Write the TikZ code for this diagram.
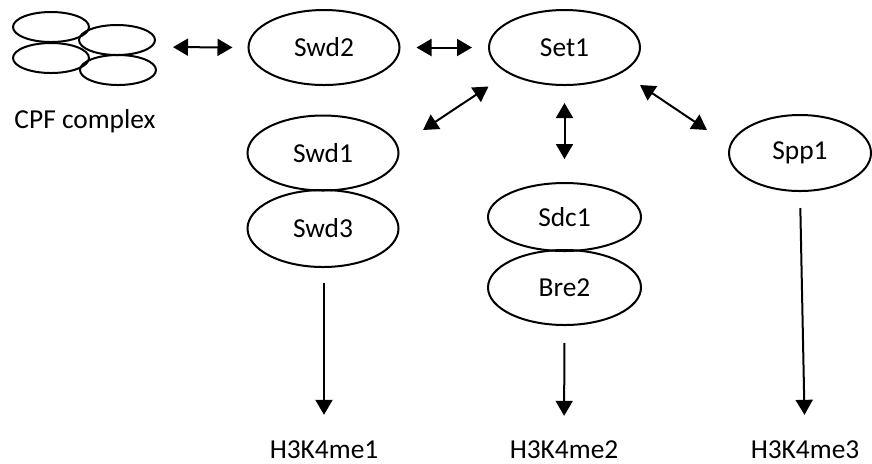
\documentclass[tikz,border=0pt]{standalone}
\usepackage{fontspec}
\setmainfont{Carlito}
\usetikzlibrary{shapes.geometric,arrows.meta}

\begin{document}
\begin{tikzpicture}[x=0.5pt,y=-0.5pt,
  every node/.style={font=\fontsize{13.7}{16}\selectfont},
  protein/.style={ellipse,draw,line width=1pt,inner sep=0pt,minimum width=75.5pt,minimum height=37.5pt},
  subunit/.style={ellipse,draw,line width=1pt,inner sep=0pt,minimum width=38pt,minimum height=15pt},
  caption/.style={inner sep=0pt,anchor=base},
  link/.style={line width=1pt,{Triangle[length=7.5pt,width=8.5pt]}-{Triangle[length=7.5pt,width=8.5pt]}},
  flow/.style={line width=1pt,-{Triangle[length=7.5pt,width=8.5pt]}}]
\useasboundingbox (0,0) rectangle (872,463);

% CPF complex
\node[subunit] (cpfB) at (117,40) {};
\node[subunit] (cpfD) at (118,70) {};
\node[subunit] (cpfA) at (51,27) {};
\node[subunit] (cpfC) at (51,58) {};
\node[caption] (cpf) at (85,128) {CPF complex};
\coordinate (cpfout) at (156,47);

% proteins
\node[protein] (swd2) at (324,47.5) {Swd2};
\node[protein] (set1) at (564.5,47.5) {Set1};
\node[protein] (swd1) at (323,153) {Swd1};
\node[protein,minimum height=38.5pt] (swd3) at (323,228.5) {Swd3};
\node[protein,minimum width=76.5pt,minimum height=34pt] (sdc1) at (564.5,217) {Sdc1};
\node[protein,minimum width=76.5pt] (bre2) at (564.5,287.5) {Bre2};
\node[protein,minimum width=71pt,minimum height=38pt] (spp1) at (800,153) {Spp1};

% marks
\node[caption] (me1) at (324,458) {H3K4me1};
\node[caption] (me2) at (564,458) {H3K4me2};
\node[caption] (me3) at (805,458) {H3K4me3};

% interactions
\draw[link,shorten <=8.5pt,shorten >=7.5pt] (cpfout) -- (swd2.west);
\draw[link,shorten <=8pt,shorten >=8pt] (swd2.east) -- (set1.west);
\draw[link] ([shift={(-76,39)}]set1.center) -- ([shift={(100,-23)}]swd1.center);
\draw[link,shorten <=8.5pt,shorten >=11.5pt] (set1.south) -- (sdc1.north);
\draw[link] ([shift={(75.5,37.5)}]set1.center) -- ([shift={(-93,-23)}]spp1.center);

% methylation
\draw[flow,shorten <=7.5pt,shorten >=12.5pt] ([xshift=0.5pt]swd3.south) -- (me1.north);
\draw[flow,shorten <=8.5pt,shorten >=12pt] (bre2.south) -- (me2.north);
\draw[flow,shorten <=8pt,shorten >=12.5pt] (spp1.south) -- (me3.north);
\end{tikzpicture}
\end{document}
